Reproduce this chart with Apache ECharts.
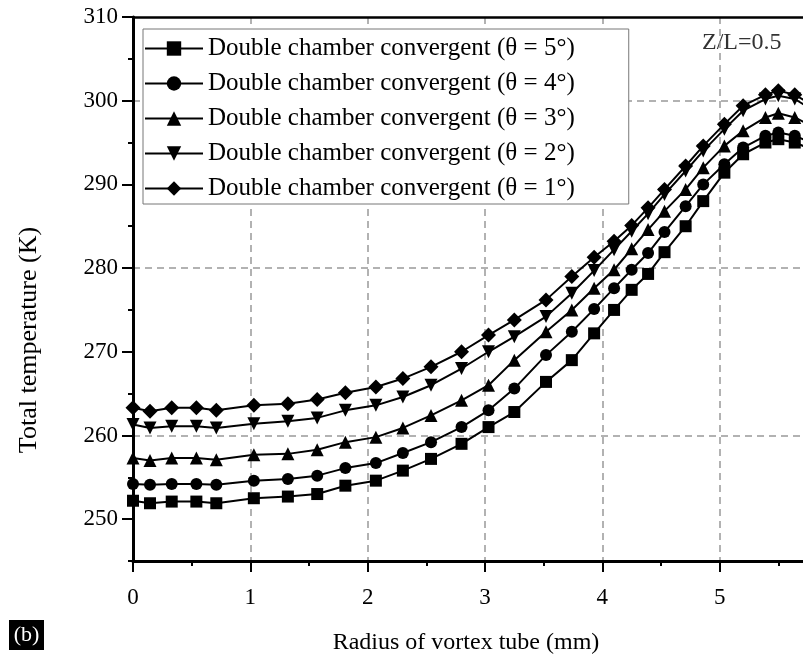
<!DOCTYPE html>
<html>
<head>
<meta charset="utf-8">
<script src="https://cdn.jsdelivr.net/npm/echarts@6/dist/echarts.min.js"></script>
<style>
    html, body { margin: 0; padding: 0; overflow: hidden; background: #fff; }
    #chart { width: 880px; height: 655px; }
</style>
</head>
<body>
<div id="chart"></div>
<script>
// radial positions of the mesh points (mm)
var radius = [0, 0.145, 0.33, 0.54, 0.71, 1.03, 1.32, 1.57, 1.81, 2.07, 2.30, 2.54, 2.80, 3.03, 3.25,
    3.52, 3.74, 3.93, 4.10, 4.25, 4.39, 4.53, 4.71, 4.86, 5.04, 5.20, 5.39, 5.50, 5.64, 5.78];

var theta5 = [252.2, 251.9, 252.1, 252.1, 251.9, 252.5, 252.7, 253.0, 254.0, 254.6, 255.8, 257.2, 259.0, 261.0, 262.8,
    266.4, 269.0, 272.2, 275.0, 277.4, 279.3, 281.9, 285.0, 288.0, 291.4, 293.6, 295.0, 295.4, 295.0, 294.2];
var theta4 = [254.2, 254.1, 254.2, 254.2, 254.1, 254.6, 254.8, 255.2, 256.1, 256.7, 257.9, 259.2, 261.0, 263.0, 265.6,
    269.6, 272.4, 275.1, 277.6, 279.8, 281.8, 284.3, 287.4, 290.0, 292.4, 294.4, 295.8, 296.2, 295.8, 295.0];
var theta3 = [257.3, 257.0, 257.3, 257.3, 257.1, 257.7, 257.8, 258.3, 259.2, 259.8, 260.9, 262.4, 264.2, 266.0, 269.0,
    272.4, 275.0, 277.6, 279.8, 282.3, 284.6, 286.8, 289.4, 292.0, 294.6, 296.4, 298.0, 298.5, 298.0, 297.0];
var theta2 = [261.3, 260.9, 261.1, 261.1, 260.9, 261.4, 261.7, 262.1, 263.0, 263.6, 264.6, 266.0, 268.0, 270.0, 271.8,
    274.2, 277.0, 279.7, 282.2, 284.4, 286.5, 288.8, 291.6, 294.0, 296.6, 298.8, 300.2, 300.6, 300.2, 299.0];
var theta1 = [263.3, 262.9, 263.3, 263.3, 263.0, 263.6, 263.8, 264.3, 265.1, 265.8, 266.8, 268.2, 270.0, 272.0, 273.8,
    276.2, 279.0, 281.3, 283.2, 285.1, 287.2, 289.4, 292.2, 294.6, 297.2, 299.4, 300.7, 301.2, 300.7, 299.6];

var seriesNames = [
    'Double chamber convergent (θ = 5°)',
    'Double chamber convergent (θ = 4°)',
    'Double chamber convergent (θ = 3°)',
    'Double chamber convergent (θ = 2°)',
    'Double chamber convergent (θ = 1°)'
];
var yTicks = [250, 260, 270, 280, 290, 300, 310];

var serif = 'Liberation Serif';

function pairs(values) {
    return radius.map(function (r, i) { return [r, values[i]]; });
}

function makeSeries(name, values, symbol, size, rotate) {
    return {
        name: name,
        type: 'line',
        data: pairs(values),
        symbol: symbol,
        symbolSize: size,
        symbolRotate: rotate || 0,
        lineStyle: { color: '#000', width: 2 },
        itemStyle: { color: '#000' }
    };
}

var myChart = echarts.init(document.getElementById('chart'));

var option = {
    animation: false,
    backgroundColor: '#fff',
    grid: { left: 133, top: 17, width: 704, height: 544 },
    legend: {
        orient: 'vertical',
        left: 143,
        top: 29,
        itemWidth: 58,
        itemHeight: 18,
        itemGap: 10,
        padding: [7, 54, 3, 1],
        borderColor: '#777',
        borderWidth: 1,
        backgroundColor: '#fff',
        textStyle: { fontFamily: serif, fontSize: 25, lineHeight: 24, color: '#000' },
        data: seriesNames
    },
    xAxis: [{
        type: 'value',
        min: 0,
        max: 6,
        interval: 1,
        axisLine: { lineStyle: { color: '#000', width: 3 } },
        axisTick: { inside: false, length: 11, lineStyle: { color: '#000', width: 2 } },
        minorTick: { show: true, splitNumber: 2, length: 5, lineStyle: { color: '#000', width: 2 } },
        axisLabel: { margin: 25, fontFamily: serif, fontSize: 23, color: '#000' },
        splitLine: { show: true, lineStyle: { color: '#999', width: 1.5, type: [7, 5] } }
    }, {
        type: 'value',
        position: 'top',
        min: 0,
        max: 6,
        axisLine: { show: true, lineStyle: { color: '#000', width: 2.5 } },
        axisTick: { show: false },
        axisLabel: { show: false },
        splitLine: { show: false }
    }],
    yAxis: [{
        type: 'value',
        min: 245,
        max: 310,
        interval: 5,
        axisLine: { show: true, lineStyle: { color: '#000', width: 3 } },
        axisTick: { show: true, customValues: yTicks, length: 11, lineStyle: { color: '#000', width: 2 } },
        axisLabel: { customValues: yTicks, margin: 15, fontFamily: serif, fontSize: 23, color: '#000' },
        splitLine: { show: true, lineStyle: { color: ['rgba(0,0,0,0)', '#999'], width: 1.5, type: [7, 5] } }
    }, {
        type: 'value',
        position: 'left',
        offset: 0,
        min: 245,
        max: 310,
        interval: 5,
        axisLine: { show: false },
        axisTick: { show: true, length: 5, lineStyle: { color: '#000', width: 2 } },
        axisLabel: { show: false },
        splitLine: { show: false }
    }],
    graphic: [
        {
            type: 'text', left: 702, top: 31,
            style: { text: 'Z/L=0.5', fontFamily: serif, fontSize: 24, fill: '#333' }
        },
        {
            type: 'text', x: 466, y: 643,
            style: { text: 'Radius of vortex tube (mm)', fontFamily: serif, fontSize: 24, fill: '#000',
                align: 'center', verticalAlign: 'middle' }
        },
        {
            type: 'text', x: 29, y: 340, rotation: Math.PI / 2,
            style: { text: 'Total temperature (K)', fontFamily: serif, fontSize: 26, fill: '#000',
                align: 'center', verticalAlign: 'middle' }
        },
        {
            type: 'rect', shape: { x: 9, y: 620, width: 35, height: 30 },
            style: { fill: '#000' }
        },
        {
            type: 'text', x: 26.5, y: 635,
            style: { text: '(b)', fontFamily: serif, fontSize: 22, fill: '#fff',
                align: 'center', verticalAlign: 'middle' }
        }
    ],
    series: [
        makeSeries(seriesNames[0], theta5, 'rect', 12),
        makeSeries(seriesNames[1], theta4, 'circle', 12),
        makeSeries(seriesNames[2], theta3, 'triangle', 13),
        makeSeries(seriesNames[3], theta2, 'triangle', 13, 180),
        makeSeries(seriesNames[4], theta1, 'diamond', 15)
    ]
};
myChart.setOption(option);
</script>
</body>
</html>
